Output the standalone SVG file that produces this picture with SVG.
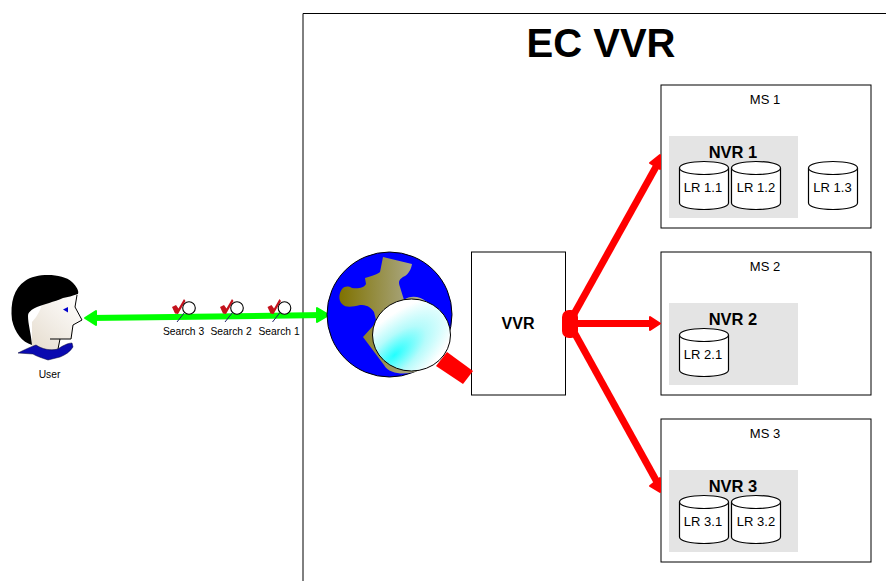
<svg xmlns="http://www.w3.org/2000/svg" width="886" height="581" viewBox="0 0 886 581">
<style>
text{font-family:"Liberation Sans",Arial,sans-serif;fill:#000;text-anchor:middle}
.box{fill:#fff;stroke:#000;stroke-width:1}
.nvr{fill:#e4e4e4}
.cyl{fill:#fff;stroke:#000;stroke-width:1.200}
.lbl{font-size:13px}
.h{font-size:16.500px;font-weight:bold}
.s{font-size:10.300px}
.red{stroke:#f00;stroke-width:7;fill:none}
.hd{fill:#f00;stroke:#f00;stroke-width:2;stroke-linejoin:round}
.gh{fill:#0f0;stroke:#0f0;stroke-width:2;stroke-linejoin:round}
</style>
<defs>
<linearGradient id="land" x1="0" x2="1" y1="0" y2="0"><stop offset="0" stop-color="#7f7200"/><stop offset="1" stop-color="#b5b5a5"/></linearGradient>
<radialGradient id="lens" cx="0.28" cy="0.78" r="0.75" gradientTransform="translate(.28 .78) rotate(-45) scale(1.4 .6) translate(-.28 -.78)"><stop offset="0" stop-color="#2ff"/><stop offset="0.5" stop-color="#b5fbfb"/><stop offset="1" stop-color="#fff"/></radialGradient>
<linearGradient id="skin" x1="0.9" y1="0" x2="0.1" y2="1"><stop offset="0" stop-color="#fff"/><stop offset="1" stop-color="#e6ddcf"/></linearGradient>
<g id="cylinder"><path class="cyl" d="M0 6.500C0 2.500 11 0 24.500 0S49 2.500 49 6.500V41.500C49 45.500 38 48 24.500 48S0 45.500 0 41.500Z"/><path class="cyl" fill="none" d="M0 6.500C0 10.500 11 13 24.500 13S49 10.500 49 6.500"/></g>
<g id="srch"><path d="M1 7L5 5L7.500 8.500L13 -1L14.500 1L7 14L4 13.500Z" fill="#c4121c"/><line x1="13.500" y1="12.500" x2="6" y2="22" stroke="#226" stroke-width="1"/><circle cx="18" cy="8" r="6.300" fill="#fff" stroke="#000" stroke-width="1.100"/></g>
</defs>
<g id="frame"><path d="M303 581V13.500H886" fill="#fff" stroke="#000" stroke-width="1"/><text x="601" y="57" font-size="40" font-weight="bold">EC VVR</text></g>
<g id="ms1"><rect class="box" x="661" y="85" width="210" height="143"/><text class="lbl" x="765" y="104">MS 1</text></g>
<g id="ms2"><rect class="box" x="661" y="252" width="210" height="143"/><text class="lbl" x="765" y="271">MS 2</text></g>
<g id="ms3"><rect class="box" x="661" y="419" width="210" height="143"/><text class="lbl" x="765" y="438">MS 3</text></g>
<g id="nvr1"><rect class="nvr" x="669" y="136" width="129" height="82"/><text class="h" x="733" y="158">NVR 1</text></g>
<g id="nvr2"><rect class="nvr" x="669" y="303" width="129" height="82"/><text class="h" x="733" y="325">NVR 2</text></g>
<g id="nvr3"><rect class="nvr" x="669" y="470" width="129" height="82"/><text class="h" x="733" y="492">NVR 3</text></g>
<g id="lr11"><use href="#cylinder" x="679.500" y="161.500"/><text class="lbl" x="703" y="192">LR 1.1</text></g>
<g id="lr12"><use href="#cylinder" x="731.500" y="161.500"/><text class="lbl" x="756" y="192">LR 1.2</text></g>
<g id="lr13"><use href="#cylinder" x="808.500" y="161.500"/><text class="lbl" x="832.500" y="192">LR 1.3</text></g>
<g id="lr21"><use href="#cylinder" x="679.500" y="328.500"/><text class="lbl" x="703" y="359">LR 2.1</text></g>
<g id="lr31"><use href="#cylinder" x="679.500" y="495.500"/><text class="lbl" x="703" y="526">LR 3.1</text></g>
<g id="lr32"><use href="#cylinder" x="731.500" y="495.500"/><text class="lbl" x="756" y="526">LR 3.2</text></g>
<g id="vvr"><rect class="box" x="471.500" y="252" width="94" height="143"/><text x="518" y="329" font-size="16" font-weight="bold">VVR</text></g>
<g id="connectors">
<path d="M90 318L325 315" stroke="#0f0" stroke-width="6" fill="none"/>
<path class="gh" d="M85 318L96 311V325Z"/>
<path class="gh" d="M329 315L317 308V322Z"/>
<path class="red" d="M569 323L657 165"/><path class="red" d="M569 323.500H655"/><path class="red" d="M569 323L657 482"/>
<path class="hd" d="M660 155V169L650 163Z"/>
<path class="hd" d="M660 323.500L650 317V330Z"/>
<path class="hd" d="M660 478V492L650 486Z"/>
<rect x="562" y="310" width="16" height="28" rx="7" fill="#f00"/>
</g>
<g id="searches">
<use href="#srch" x="171" y="300"/><text class="s" x="183.500" y="335">Search 3</text>
<use href="#srch" x="219" y="300"/><text class="s" x="231" y="335">Search 2</text>
<use href="#srch" x="266.500" y="300"/><text class="s" x="279" y="335">Search 1</text>
</g>
<g id="globe">
<path d="M447 352L473 371L463 384L436 366Z" fill="#f00"/>
<circle cx="389.500" cy="314.500" r="62.500" fill="#00f" stroke="#000" stroke-width="1"/>
<path fill="url(#land)" d="M383 257L412 264C411 270 408 274 405 276C399 279 398 281 400 287L404 300C410 295 420 296 427 302L430 320L420 370C410 375 390 376 384 365L363 337L373 326L376 320L374 312C370 306 366 305 360 305C352 307 346 308 342 304C338 300 339 293 342 289C345 286 348 286 352 288C358 289 364 288 366 284L365 278C372 276 378 274 380 272Z"/>
<ellipse cx="411.500" cy="335" rx="39" ry="36" fill="url(#lens)" stroke="#000" stroke-width="1"/>
</g>
<g id="user">
<path d="M32 346V322C36 318 40 311 42 305L62 293L77 295L75 307L82 320L73 325L72 339H60L58 350L45 352Z" fill="url(#skin)"/>
<path d="M50 339H71L73 325L82 320L75 307L77 295" fill="none" stroke="#000" stroke-width="1"/>
<path d="M60 339L58 349" stroke="#000" stroke-width="1" fill="none"/>
<path d="M18 353C24 350 30 347 36 345C42 349 50 351 58 349C62 346 68 343 72 343L73 347C70 352 65 355 60 357L48 360C42 358 36 356 33 354Z" fill="#0a0ab0" stroke="#003" stroke-width=".5"/>
<path d="M32 345C22 342 15 333 12 320C10 303 14 288 25 281C36 273 62 273 72 282C77 287 79 291 78 294C72 296 68 297 63 298C54 302 44 304 37 307C31 310 28 312 28 316C28 324 31 333 32 345Z" fill="#000"/>
<path d="M63 309.500L68 307V312.500Z" fill="#00c"/>
<text class="s" x="49.500" y="378">User</text>
</g>
</svg>
